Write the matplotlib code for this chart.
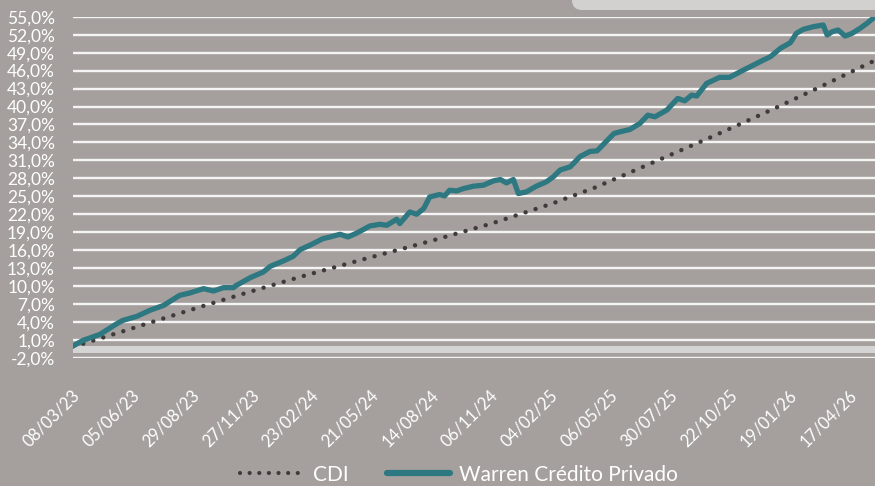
import numpy as np
import matplotlib
matplotlib.use("Agg")
import matplotlib.pyplot as plt
from matplotlib.patches import FancyBboxPatch
from matplotlib.lines import Line2D
from matplotlib.transforms import ScaledTranslation

# business-day index of each reading and cumulative return (%)
warren_idx = [0, 10, 27, 44, 50, 64, 77, 91, 107, 117, 131, 141, 151, 161, 164, 178, 191, 198,
              211, 221, 228, 238, 251, 258, 268, 276, 285, 298, 308, 315, 325, 328, 338, 345,
              352, 358, 368, 373, 378, 385, 392, 402, 412, 422, 429, 435, 442, 447, 455, 465,
              475, 482, 489, 499, 509, 519, 526, 543, 549, 559, 569, 577, 584, 596, 607, 614,
              621, 626, 636, 649, 659, 673, 683, 693, 700, 710, 720, 726, 733, 743, 753, 757,
              762, 768, 775, 782, 790, 797, 805]
warren = [0.0, 0.94, 1.94, 3.73, 4.28, 4.95, 5.95, 6.79, 8.46, 8.85, 9.58, 9.18, 9.75, 9.75,
          10.13, 11.42, 12.36, 13.31, 14.2, 14.98, 16.1, 16.85, 17.94, 18.21, 18.66, 18.21,
          18.88, 20.05, 20.33, 20.17, 21.17, 20.45, 22.39, 22.01, 22.96, 24.9, 25.3, 25.07,
          26.02, 25.9, 26.3, 26.69, 26.86, 27.58, 27.81, 27.24, 27.81, 25.47, 25.74, 26.69,
          27.41, 28.24, 29.4, 29.92, 31.65, 32.5, 32.59, 35.5, 35.77, 36.17, 37.17, 38.56,
          38.28, 39.4, 41.35, 40.95, 41.91, 41.74, 43.86, 44.87, 44.87, 46.09, 46.92, 47.76,
          48.31, 49.72, 50.65, 52.22, 52.89, 53.33, 53.61, 51.94, 52.49, 52.78, 51.77, 52.22,
          53.06, 53.9, 55.0]

cdi_idx = [0, 10, 52, 94, 136, 178, 230, 294, 357, 420, 482, 502, 523, 572, 642, 702, 751, 800, 805]
cdi = [0.0, 0.38, 2.56, 4.78, 6.96, 9.08, 11.64, 14.6, 17.44, 20.45, 23.85, 25.1, 26.4, 29.92,
       35.0, 39.51, 43.36, 47.31, 47.7]

tick_labels = ["08/03/23", "05/06/23", "29/08/23", "27/11/23", "23/02/24", "21/05/24",
               "14/08/24", "06/11/24", "04/02/25", "06/05/25", "30/07/25", "22/10/25",
               "19/01/26", "17/04/26"]
n_days = 805

BG = "#a5a09d"
TEAL = "#2e7882"
DOT = "#403a3a"

plt.rcParams["font.family"] = ["Lato", "DejaVu Sans"]

fig = plt.figure(figsize=(8.75, 4.86), dpi=100, facecolor=BG)
ax = fig.add_axes([73 / 875, 1 - 358 / 486, 1 - 73 / 875, (358 - 16.7) / 486])
ax.set_facecolor(BG)

# light strip under zero
ax.axhspan(-1.2, 0.0, color="#d4d4d4", lw=0, zorder=1)

yt = np.arange(-2, 56, 3)
for v in yt:
    ax.axhline(v, color="#f4f4f4", lw=1.7, zorder=1)

ax.plot(cdi_idx, cdi, color=DOT, lw=3.2, dashes=(0.01, 2.35),
        dash_capstyle="round", zorder=3)
ax.plot(warren_idx, warren, color=TEAL, lw=3.8, solid_joinstyle="round", zorder=4)

ax.set_xlim(0, n_days)
ax.set_ylim(-2, 55)
ax.set_yticks(yt)
ax.set_yticklabels([f"{v:.1f}%".replace(".", ",") for v in yt])
ax.set_xticks(np.arange(len(tick_labels)) * 60)
ax.set_xticklabels(tick_labels, rotation=45, ha="right", va="center",
                   rotation_mode="anchor")
ax.tick_params(axis="y", length=0, pad=13, labelsize=12.5, labelcolor="white")
ax.tick_params(axis="x", length=0, pad=25, labelsize=12, labelcolor="white")
shift = ScaledTranslation(4 / 100, 0, fig.dpi_scale_trans)
for lab in ax.get_xticklabels():
    lab.set_transform(lab.get_transform() + shift)
for s in ax.spines.values():
    s.set_visible(False)

# rounded box at the top right
fig.patches.append(FancyBboxPatch((5.72, 4.76), 3.3, 0.5,
                                  boxstyle="round,pad=0,rounding_size=0.1",
                                  transform=fig.dpi_scale_trans, fc="#d2d1d0",
                                  ec="none", figure=fig))

handles = [Line2D([], [], color=DOT, lw=3.0, dashes=(0.01, 2.3), dash_capstyle="round"),
           Line2D([], [], color=TEAL, lw=4.5, solid_capstyle="round")]
leg = fig.legend(handles, ["CDI", "Warren Crédito Privado"], loc="lower center",
                 bbox_to_anchor=(0.525, -0.036), ncol=2, frameon=False, fontsize=15,
                 handlelength=3.05, handletextpad=0.45, columnspacing=1.8)
for t in leg.get_texts():
    t.set_color("white")

fig.savefig("out.png", dpi=100, facecolor=BG)
